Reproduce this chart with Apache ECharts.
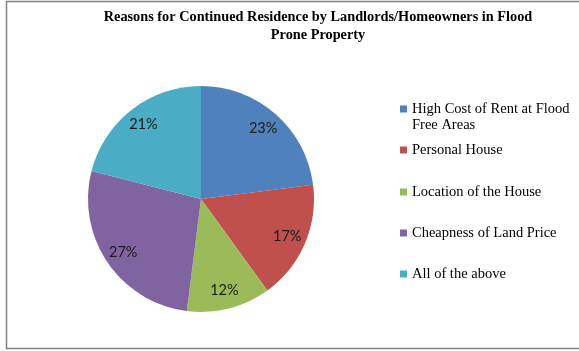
<!DOCTYPE html>
<html>
<head>
<meta charset="utf-8">
<script src="https://cdn.jsdelivr.net/npm/echarts@6/dist/echarts.min.js"></script>
<style>html,body{margin:0;padding:0;background:#fff;}#c{width:579px;height:351px;}</style>
</head>
<body>
<div id="c"></div>
<script>
const titleLines = ['Reasons for Continued Residence by Landlords/Homeowners in Flood', 'Prone Property'];
const categories = ['High Cost of Rent at Flood Free Areas', 'Personal House', 'Location of the House', 'Cheapness of Land Price', 'All of the above'];
const values = [23, 17, 12, 27, 21];
const colors = ['#4F81BD', '#C0504D', '#9BBB59', '#8064A2', '#4BACC6'];
const legendTops = [101, 142, 184, 225, 266];

const chart = echarts.init(document.getElementById('c'), null, {renderer: 'canvas'});
const data = categories.map((n, i) => ({name: n, value: values[i], itemStyle: {color: colors[i]}}));

const legends = categories.map((n, i) => ({
  orient: 'vertical',
  left: 400,
  top: legendTops[i],
  padding: 0,
  itemWidth: 7,
  itemHeight: 7,
  icon: 'rect',
  selectedMode: false,
  data: [{name: n, itemStyle: {color: colors[i]}}],
  formatter: i === 0 ? () => 'High Cost of Rent at Flood' : undefined,
  textStyle: {fontFamily: 'Liberation Serif', fontSize: 14.5, color: '#000', lineHeight: 16}
}));

chart.setOption({
  animation: false,
  backgroundColor: '#fff',
  legend: legends,
  graphic: [
    {type: 'rect', shape: {x: 6.5, y: 1.5, width: 600, height: 347}, style: {fill: 'none', stroke: '#808080', lineWidth: 1.5}, silent: true},
    {type: 'text', x: 318, y: 17, style: {text: titleLines[0], fontFamily: 'Liberation Serif', fontWeight: 'bold', fontSize: 14.3, fill: '#000', textAlign: 'center', textVerticalAlign: 'middle'}},
    {type: 'text', x: 318, y: 35, style: {text: titleLines[1], fontFamily: 'Liberation Serif', fontWeight: 'bold', fontSize: 14.3, fill: '#000', textAlign: 'center', textVerticalAlign: 'middle'}},
    {type: 'text', x: 412, y: 125, style: {text: 'Free Areas', fontFamily: 'Liberation Serif', fontSize: 14.5, fill: '#000', textAlign: 'left', textVerticalAlign: 'middle'}}
  ],
  series: [
    {
      type: 'pie',
      center: [201, 199],
      radius: [0, 113],
      startAngle: 90,
      clockwise: true,
      silent: true,
      label: {show: false},
      labelLine: {show: false},
      itemStyle: {borderWidth: 0},
      data: data
    },
    {
      type: 'pie',
      center: [201, 199],
      radius: [0, 182],
      startAngle: 90,
      clockwise: true,
      silent: true,
      z: 5,
      itemStyle: {color: 'rgba(0,0,0,0)', borderWidth: 0},
      label: {show: true, position: 'inside', formatter: '{c}%', fontFamily: 'Lato', fontSize: 14.5, color: '#1a1a1a'},
      labelLine: {show: false},
      data: categories.map((n, i) => ({name: n, value: values[i]}))
    }
  ]
});
</script>
</body>
</html>
